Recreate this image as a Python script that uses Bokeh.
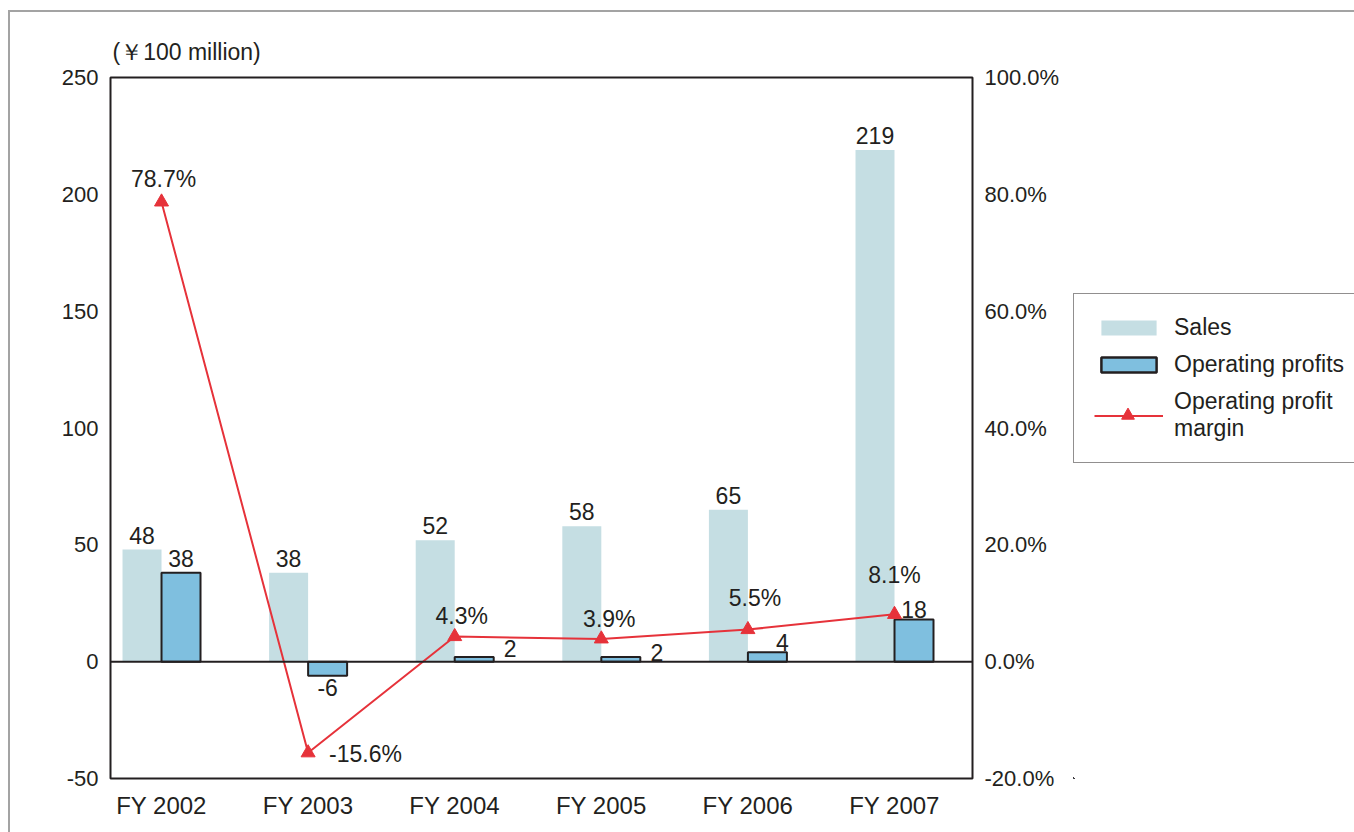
from bokeh.plotting import figure
from bokeh.layouts import row
from bokeh.models import (Range1d, LinearAxis, FixedTicker, PrintfTickFormatter,
                          ColumnDataSource, Span, Legend, LegendItem, Title)
from bokeh.core.properties import value
from bokeh.embed import file_html
from bokeh.resources import INLINE

# ---- data ----
years = ["FY 2002", "FY 2003", "FY 2004", "FY 2005", "FY 2006", "FY 2007"]
sales = [48, 38, 52, 58, 65, 219]
op_profits = [38, -6, 2, 2, 4, 18]
op_margin = [78.7, -15.6, 4.3, 3.9, 5.5, 8.1]
left_ticks = [-50, 0, 50, 100, 150, 200, 250]
right_ticks = [-20, 0, 20, 40, 60, 80, 100]
series_names = ["Sales", "Operating profits", "Operating profit\nmargin"]

# ---- label placement (style) ----
op_dx = [0, 0, 36, 36, 15, 0]
op_dy = [-6, 3, 0, 4, -1, -2]
op_base = ["bottom", "top", "bottom", "bottom", "bottom", "bottom"]
pct_dx = [2, 21, 7, 8, 7, 0]
pct_dy = [-10, 1, -8, -7, -19, -26]
pct_align = ["center", "left", "center", "center", "center", "center"]
pct_base = ["bottom", "middle", "bottom", "bottom", "bottom", "bottom"]

FONT = "Liberation Sans"
TXT = "#231f20"
SALES_C = "#c5dee3"
OP_C = "#7fbfdf"
RED = "#e6323a"
BW = 0.266

xs = list(range(len(years)))
src = ColumnDataSource(dict(
    x=xs,
    xs=[x - BW / 2 for x in xs],
    xo=[x + BW / 2 for x in xs],
    sales=sales, op=op_profits, margin=op_margin,
    sales_lbl=[str(v) for v in sales],
    op_lbl=[str(v) for v in op_profits],
    pct_lbl=["%.1f%%" % v for v in op_margin],
    op_dx=op_dx, op_dy=op_dy, op_base=op_base,
    pct_dx=pct_dx, pct_dy=pct_dy, pct_align=pct_align, pct_base=pct_base,
))

p = figure(width=1063, height=820, output_backend="svg", toolbar_location=None,
           x_range=Range1d(-0.348, 5.532), y_range=Range1d(-50, 250),
           min_border_left=100, min_border_right=101, min_border_top=65,
           min_border_bottom=54)
p.extra_y_ranges = {"pct": Range1d(-20, 100)}
p.xgrid.visible = False
p.ygrid.visible = False
p.outline_line_color = "#231f20"
p.outline_line_width = 2
p.background_fill_color = "white"
p.border_fill_color = "white"

def style_axis(ax, size="22px"):
    ax.axis_line_color = None
    ax.major_tick_line_color = None
    ax.minor_tick_line_color = None
    ax.major_tick_out = 0
    ax.major_tick_in = 0
    ax.minor_tick_out = 0
    ax.minor_tick_in = 0
    ax.major_label_text_font = FONT
    ax.major_label_text_font_size = size
    ax.major_label_text_color = TXT

p.yaxis.ticker = FixedTicker(ticks=left_ticks)
p.yaxis.formatter = PrintfTickFormatter(format="%d")
style_axis(p.yaxis[0])
p.yaxis.major_label_standoff = 12

p.xaxis.ticker = FixedTicker(ticks=xs)
p.xaxis.major_label_overrides = {i: y for i, y in enumerate(years)}
style_axis(p.xaxis[0], "24px")
p.xaxis.major_label_standoff = 13

ra = LinearAxis(y_range_name="pct", ticker=FixedTicker(ticks=right_ticks),
                formatter=PrintfTickFormatter(format="%.1f%%"))
style_axis(ra)
ra.major_label_standoff = 12
p.add_layout(ra, "right")

p.add_layout(Title(text="(\uffe5100 million)", align="left", offset=2, standoff=25,
                   text_font=FONT, text_font_size="23px", text_font_style="normal",
                   text_color=TXT), "above")

# bars
p.vbar(x="xs", top="sales", bottom=0, width=BW, source=src,
       fill_color=SALES_C, line_color=None)
p.vbar(x="xo", top="op", bottom=0, width=BW, source=src,
       fill_color=OP_C, line_color="#231f20", line_width=2)
p.add_layout(Span(location=0, dimension="width", line_color="#231f20", line_width=2))

# margin line
p.line(x="x", y="margin", source=src, y_range_name="pct",
       line_color=RED, line_width=2)
p.scatter(x="x", y="margin", source=src, y_range_name="pct",
          marker="triangle", size=14, fill_color=RED, line_color=RED)

# labels
p.text(x="xs", y="sales", text="sales_lbl", source=src, text_align="center",
       text_baseline="bottom", y_offset=-6, text_font=value(FONT),
       text_font_size="23px", text_color=TXT)
p.text(x="xo", y="op", text="op_lbl", source=src, text_align="center",
       text_baseline="op_base", x_offset="op_dx", y_offset="op_dy",
       text_font=value(FONT), text_font_size="23px", text_color=TXT)
p.text(x="x", y="margin", text="pct_lbl", source=src, y_range_name="pct",
       text_align="pct_align", text_baseline="pct_base", x_offset="pct_dx",
       y_offset="pct_dy", text_font=value(FONT), text_font_size="23px",
       text_color=TXT)

# ---- legend panel (its glyphs lie outside its own view; only the legend shows) ----
L = figure(width=281, height=820, output_backend="svg", toolbar_location=None,
           x_axis_type=None, y_axis_type=None, min_border=0,
           x_range=Range1d(1000, 1001), y_range=Range1d(1000, 1001))
L.xgrid.visible = False
L.ygrid.visible = False
L.outline_line_color = None
L.border_fill_color = "white"
l_sales = L.vbar(x="xs", top="sales", width=BW, source=src,
                 fill_color=SALES_C, line_color=None)
l_op = L.vbar(x="xo", top="op", width=BW, source=src,
              fill_color=OP_C, line_color="#231f20", line_width=2.5)
l_line = L.line(x="x", y="margin", source=src, line_color=RED, line_width=2)
l_mark = L.scatter(x="x", y="margin", source=src, marker="triangle", size=14,
                   fill_color=RED, line_color=RED)

legend = Legend(items=[
    LegendItem(label=series_names[0], renderers=[l_sales]),
    LegendItem(label=series_names[1], renderers=[l_op]),
    LegendItem(label=series_names[2], renderers=[l_line]),
], location=(0, 315))
legend.label_text_font = FONT
legend.label_text_font_size = "23px"
legend.label_text_color = TXT
legend.glyph_width = 69
legend.glyph_height = 19
legend.label_standoff = 11
legend.padding = 20
legend.spacing = 10
legend.margin = 0
legend.border_line_color = "#231f20"
legend.border_line_width = 1.5
legend.background_fill_alpha = 1
L.add_layout(legend)

# overlay legend holding only the larger triangle marker of the third entry
mk = Legend(items=[LegendItem(label=" ", renderers=[l_mark])], location=(20, 347))
mk.glyph_width = 69
mk.glyph_height = 32
mk.padding = 0
mk.spacing = 0
mk.margin = 0
mk.label_standoff = 0
mk.label_text_font_size = "23px"
mk.border_line_color = None
mk.background_fill_alpha = 0
L.add_layout(mk)

lay = row(p, L, spacing=0)
lay.styles = {"margin-left": "8px", "margin-top": "10px",
              "border-top": "2px solid #a3a3a3", "border-left": "2px solid #a3a3a3"}

open("out.html", "w").write(file_html(lay, INLINE))
